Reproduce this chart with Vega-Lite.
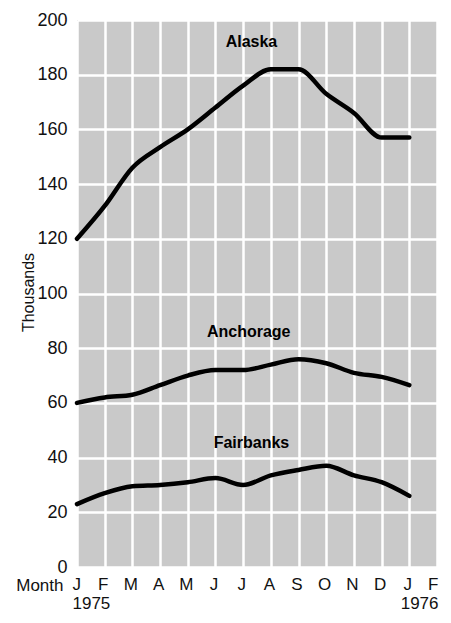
{
  "$schema": "https://vega.github.io/schema/vega-lite/v6.json",
  "width": 360,
  "height": 547,
  "autosize": {"type": "none"},
  "padding": {"left": 77, "top": 20, "right": 14, "bottom": 56},
  "background": "white",
  "config": {
    "view": {"fill": "#c9c9c9", "stroke": null},
    "font": "Liberation Sans",
    "axis": {"labelColor": "#111", "titleColor": "#111"}
  },
  "datasets": {
    "series": [
      {"region": "Alaska", "month": 0, "value": 120},
      {"region": "Alaska", "month": 1, "value": 132},
      {"region": "Alaska", "month": 2, "value": 146},
      {"region": "Alaska", "month": 3, "value": 153.5},
      {"region": "Alaska", "month": 4, "value": 160},
      {"region": "Alaska", "month": 5, "value": 168},
      {"region": "Alaska", "month": 6, "value": 176},
      {"region": "Alaska", "month": 7, "value": 182},
      {"region": "Alaska", "month": 8, "value": 182},
      {"region": "Alaska", "month": 9, "value": 173},
      {"region": "Alaska", "month": 10, "value": 166},
      {"region": "Alaska", "month": 11, "value": 157},
      {"region": "Alaska", "month": 12, "value": 157},
      {"region": "Anchorage", "month": 0, "value": 60},
      {"region": "Anchorage", "month": 1, "value": 62},
      {"region": "Anchorage", "month": 2, "value": 63},
      {"region": "Anchorage", "month": 3, "value": 66.5},
      {"region": "Anchorage", "month": 4, "value": 70},
      {"region": "Anchorage", "month": 5, "value": 72},
      {"region": "Anchorage", "month": 6, "value": 72},
      {"region": "Anchorage", "month": 7, "value": 74},
      {"region": "Anchorage", "month": 8, "value": 76},
      {"region": "Anchorage", "month": 9, "value": 74.5},
      {"region": "Anchorage", "month": 10, "value": 71},
      {"region": "Anchorage", "month": 11, "value": 69.5},
      {"region": "Anchorage", "month": 12, "value": 66.5},
      {"region": "Fairbanks", "month": 0, "value": 23},
      {"region": "Fairbanks", "month": 1, "value": 27},
      {"region": "Fairbanks", "month": 2, "value": 29.5},
      {"region": "Fairbanks", "month": 3, "value": 30},
      {"region": "Fairbanks", "month": 4, "value": 31},
      {"region": "Fairbanks", "month": 5, "value": 32.5},
      {"region": "Fairbanks", "month": 6, "value": 30},
      {"region": "Fairbanks", "month": 7, "value": 33.5},
      {"region": "Fairbanks", "month": 8, "value": 35.5},
      {"region": "Fairbanks", "month": 9, "value": 37},
      {"region": "Fairbanks", "month": 10, "value": 33.5},
      {"region": "Fairbanks", "month": 11, "value": 31},
      {"region": "Fairbanks", "month": 12, "value": 26}
    ],
    "labels": [
      {"region": "Alaska", "month": 6.3, "value": 192},
      {"region": "Anchorage", "month": 6.2, "value": 86},
      {"region": "Fairbanks", "month": 6.3, "value": 45.5}
    ]
  },
  "encoding": {
    "x": {
      "field": "month", "type": "quantitative",
      "scale": {"domain": [0, 13], "nice": false, "zero": false},
      "axis": {
        "values": [0, 1, 2, 3, 4, 5, 6, 7, 8, 9, 10, 11, 12, 13],
        "labelExpr": "datum.value == 0 ? ['J', '1975'] : datum.value == 13 ? ['F', '1976'] : ['J','F','M','A','M','J','J','A','S','O','N','D','J','F'][datum.value]",
        "labelAlign": {"condition": [{"test": "datum.value == 0", "value": "left"}, {"test": "datum.value == 13", "value": "right"}], "value": "center"},
        "labelOffset": {"condition": [{"test": "datum.value == 0", "value": -5}, {"test": "datum.value == 13", "value": 1}], "value": -2},
        "labelFontSize": 17,
        "labelPadding": 9,
        "labelFlush": false,
        "labelOverlap": false,
        "labelBound": false,
        "grid": true, "gridColor": "white", "gridWidth": 2.5, "gridOpacity": 1,
        "ticks": false, "domain": false,
        "title": "Month", "titleFontSize": 17, "titleFontWeight": "normal",
        "titleAnchor": null, "titleAlign": "right", "titleBaseline": "top",
        "titleX": -14, "titleY": 10
      }
    },
    "y": {
      "field": "value", "type": "quantitative",
      "scale": {"domain": [0, 200], "nice": false},
      "axis": {
        "values": [0, 20, 40, 60, 80, 100, 120, 140, 160, 180, 200],
        "labelFontSize": 18, "labelPadding": 10,
        "grid": true, "gridColor": "white", "gridWidth": 2.5, "gridOpacity": 1,
        "ticks": false, "domain": false,
        "title": "Thousands", "titleFontSize": 16, "titleFontWeight": "normal",
        "titleAngle": -90, "titleAlign": "center", "titleBaseline": "middle",
        "titleX": -49, "titleY": 272
      }
    }
  },
  "layer": [
    {
      "data": {"name": "series"},
      "mark": {"type": "line", "interpolate": "monotone", "color": "black", "strokeWidth": 4.5, "strokeCap": "round", "strokeJoin": "round"},
      "encoding": {
        "detail": {"field": "region", "type": "nominal"}
      }
    },
    {
      "data": {"name": "labels"},
      "mark": {"type": "text", "fontWeight": "bold", "fontSize": 16, "color": "black", "align": "center", "baseline": "middle"},
      "encoding": {
        "text": {"field": "region", "type": "nominal"}
      }
    }
  ]
}
